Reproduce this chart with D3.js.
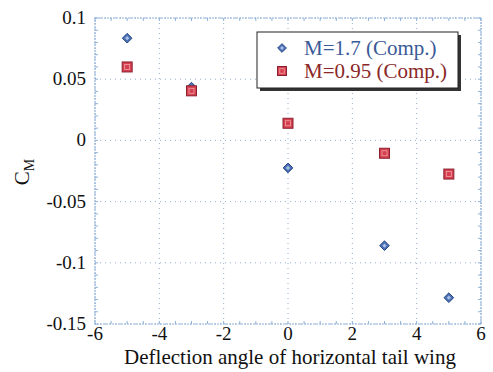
<!DOCTYPE html>
<html>
<head>
<meta charset="utf-8">
<script src="https://cdn.jsdelivr.net/npm/d3@7"></script>
<style>
  body { margin: 0; background: #fff; }
  svg { font-family: "Liberation Serif", "Times New Roman", serif; }
</style>
</head>
<body>
<div class="chart"></div>
<script>
// datos
var angulos = [-5, -3, 0, 3, 5];
var cmM17 = [0.0835, 0.0435, -0.0225, -0.086, -0.1285];
var cmM095 = [0.060, 0.0405, 0.0140, -0.0105, -0.0275];
var xTicks = [-6, -4, -2, 0, 2, 4, 6];
var yTicks = [0.1, 0.05, 0, -0.05, -0.1, -0.15];
var series = [
    { nombre: "M=1.7 (Comp.)", valores: cmM17, tipo: "diamond", color: "#4a6fb0", borde: "#2a4a88", texto: "#3a5a98" },
    { nombre: "M=0.95 (Comp.)", valores: cmM095, tipo: "square", color: "#d6404e", borde: "#8a2030", texto: "#8a2828" }
];

var width = 493, height = 372;
var margin = { left: 95, top: 18, right: 12, bottom: 48 };

var svg = d3.select(".chart").append("svg")
    .attr("width", width)
    .attr("height", height);

var x = d3.scaleLinear().domain([-6, 6]).range([margin.left, width - margin.right]);
var y = d3.scaleLinear().domain([-0.15, 0.1]).range([height - margin.bottom, margin.top]);

var gridColor = "#8fb0d8";

// Rejilla punteada
svg.append("g").selectAll("line.gx")
    .data(xTicks)
    .enter().append("line")
    .attr("x1", function(d) { return x(d); })
    .attr("x2", function(d) { return x(d); })
    .attr("y1", y(0.1))
    .attr("y2", y(-0.15))
    .attr("stroke", gridColor)
    .attr("stroke-width", 1)
    .attr("stroke-dasharray", "1,4");

svg.append("g").selectAll("line.gy")
    .data(yTicks)
    .enter().append("line")
    .attr("x1", x(-6))
    .attr("x2", x(6))
    .attr("y1", function(d) { return y(d); })
    .attr("y2", function(d) { return y(d); })
    .attr("stroke", gridColor)
    .attr("stroke-width", 1)
    .attr("stroke-dasharray", "1,4");

// Marco
svg.append("rect")
    .attr("x", x(-6))
    .attr("y", y(0.1))
    .attr("width", x(6) - x(-6))
    .attr("height", y(-0.15) - y(0.1))
    .attr("fill", "none")
    .attr("stroke", gridColor)
    .attr("stroke-width", 1.2)
    .attr("stroke-dasharray", "2,1");

// Ticks menores
var xMinor = d3.range(-6, 6.01, 0.5);
var yMinor = d3.range(-0.15, 0.1001, 0.01);
[y(-0.15), y(0.1)].forEach(function(yy, k) {
    svg.append("g").selectAll("line")
        .data(xMinor)
        .enter().append("line")
        .attr("x1", function(d) { return x(d); })
        .attr("x2", function(d) { return x(d); })
        .attr("y1", yy)
        .attr("y2", yy + (k === 0 ? -3 : 3))
        .attr("stroke", gridColor);
});
[x(-6), x(6)].forEach(function(xx, k) {
    svg.append("g").selectAll("line")
        .data(yMinor)
        .enter().append("line")
        .attr("x1", xx)
        .attr("x2", xx + (k === 0 ? 3 : -3))
        .attr("y1", function(d) { return y(d); })
        .attr("y2", function(d) { return y(d); })
        .attr("stroke", gridColor);
});

// Etiquetas de ejes
svg.append("g").selectAll("text")
    .data(xTicks)
    .enter().append("text")
    .attr("x", function(d) { return x(d); })
    .attr("y", y(-0.15) + 16)
    .attr("text-anchor", "middle")
    .attr("font-size", 19)
    .attr("fill", "#111")
    .text(function(d) { return d; });

svg.append("g").selectAll("text")
    .data(yTicks)
    .enter().append("text")
    .attr("x", x(-6) - 9)
    .attr("y", function(d) { return y(d) + 6; })
    .attr("text-anchor", "end")
    .attr("font-size", 19)
    .attr("fill", "#111")
    .text(function(d) { return d; });

svg.append("text")
    .attr("x", x(0) + 2)
    .attr("y", 364)
    .attr("text-anchor", "middle")
    .attr("font-size", 21)
    .attr("fill", "#111")
    .text("Deflection angle of horizontal tail wing");

var ylab = svg.append("text")
    .attr("transform", "translate(29,172) rotate(-90)")
    .attr("text-anchor", "middle")
    .attr("font-size", 21)
    .attr("fill", "#111");
ylab.append("tspan").text("C");
ylab.append("tspan").attr("font-size", 14).attr("dy", 5).text("M");

// Marcadores
function dibujarMarca(g, tipo, cx, cy, s, color, borde) {
    if (tipo === "diamond") {
        g.append("path")
            .attr("d", d3.symbol().type(d3.symbolDiamond2).size(s * s * 0.6)())
            .attr("transform", "translate(" + cx + "," + cy + ")")
            .attr("fill", color)
            .attr("stroke", borde)
            .attr("stroke-width", 1);
        g.append("path")
            .attr("d", d3.symbol().type(d3.symbolDiamond2).size(s * s * 0.12)())
            .attr("transform", "translate(" + cx + "," + cy + ")")
            .attr("fill", "#a8c0e8");
    } else {
        g.append("rect")
            .attr("x", cx - s / 2)
            .attr("y", cy - s / 2)
            .attr("width", s)
            .attr("height", s)
            .attr("fill", color)
            .attr("stroke", borde)
            .attr("stroke-width", 1);
        g.append("rect")
            .attr("x", cx - s / 4)
            .attr("y", cy - s / 4)
            .attr("width", s / 2)
            .attr("height", s / 2)
            .attr("fill", "none")
            .attr("stroke", "#f0a0a8")
            .attr("stroke-width", 0.8);
    }
}

series.forEach(function(s) {
    var g = svg.append("g");
    angulos.forEach(function(a, i) {
        dibujarMarca(g, s.tipo, x(a), y(s.valores[i]), 10, s.color, s.borde);
    });
});

// Leyenda
var lx = 257, ly = 32, lw = 201, lh = 56;
svg.append("rect")
    .attr("x", lx + 3).attr("y", ly + 3)
    .attr("width", lw).attr("height", lh)
    .attr("fill", "#333");
svg.append("rect")
    .attr("x", lx).attr("y", ly)
    .attr("width", lw).attr("height", lh)
    .attr("fill", "#fff")
    .attr("stroke", "#222")
    .attr("stroke-width", 1);

var leg = svg.append("g");
series.forEach(function(s, i) {
    var yy = ly + 16 + i * 23;
    dibujarMarca(leg, s.tipo, lx + 25, yy, 9, s.color, s.borde);
    leg.append("text")
        .attr("x", lx + 47)
        .attr("y", yy + 7)
        .attr("font-size", 21)
        .attr("fill", s.texto)
        .text(s.nombre);
});
</script>
</body>
</html>
